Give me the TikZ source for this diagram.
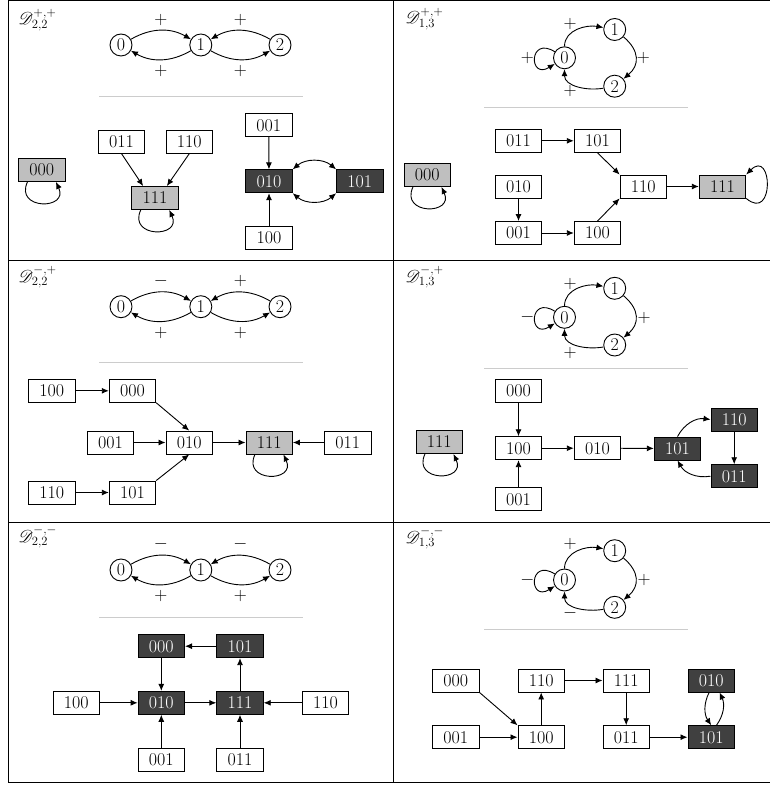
\documentclass[tikz,border=0pt]{standalone}
\usepackage{fix-cm}
\usepackage{fontspec}
\usepackage{mathrsfs}
\usetikzlibrary{arrows.meta,calc,positioning}

\begin{document}
\begin{tikzpicture}[
        x=1pt, y=1pt, line width=0.9pt,
        >={Latex[length=7pt,width=6pt]},
        every node/.style={font=\fontsize{18}{22}\selectfont},
        vtx/.style={circle, draw, minimum size=22pt, inner sep=0pt},
        st/.style={rectangle, draw, minimum width=46.5pt, minimum height=23pt, inner sep=0pt},
        fix/.style={st, fill=black!25},
        cyc/.style={st, fill=black!75, text=white},
        sep/.style={draw=black!20, line width=1pt},
        ttl/.style={anchor=base west, inner sep=0pt}
      ]
        \useasboundingbox (0,0) rectangle (769,-786);

        \draw (8,0) rectangle (770,-782);
        \draw (393,0) -- (393,-782);
        \draw (8,-260.7) -- (770,-260.7);
        \draw (8,-522) -- (770,-522);

        % D_{2,2}^{+,+}
        \node (atl) [ttl] at (18,-25) {$\mathscr{D}^{+,+}_{2,2}$};
        \node (a0) [vtx] at (121,-45) {0};
        \node (a1) [vtx] at (200.8,-45) {1};
        \node (a2) [vtx] at (280,-45) {2};
        \draw[->] (a0) to[bend left=30] node[above=1.5pt] (a01) {$+$} (a1);
        \draw[->] (a2) to[bend right=30] node[above=1.5pt] (a21) {$+$} (a1);
        \draw[->] (a1) to[bend left=30] node[below=2.5pt] (a10) {$+$} (a0);
        \draw[->] (a1) to[bend right=30] node[below=2.5pt] (a12) {$+$} (a2);
        \draw[sep] (99,-96.7) -- (303,-96.7);

        \node (a000) [fix] at (41.7,-170) {000};
        \node (a011) [st] at (121.5,-141.7) {011};
        \node (a110) [st] at (189.3,-141.7) {110};
        \node (a111) [fix] at (155,-198) {111};
        \node (a001) [st] at (268.8,-125.2) {001};
        \node (a010) [cyc] at (269,-181.3) {010};
        \node (a101) [cyc] at (359.8,-181.3) {101};
        \node (a100) [st] at (269,-237.5) {100};
        \draw[->] (a000.-140) to[out=-115,in=-65,looseness=2.8] (a000.-40);
        \draw[->] (a011.south) -- ($(a111.north)!.5!(a111.north west)$);
        \draw[->] (a110.south) -- ($(a111.north)!.5!(a111.north east)$);
        \draw[->] (a111.-140) to[out=-115,in=-65,looseness=2.8] (a111.-40);
        \draw[->] (a001) -- (a010);
        \draw[->] (a100) -- (a010);
        \draw[<->] (a010.north east) to[bend left=40] (a101.north west);
        \draw[<->] (a010.south east) to[bend right=40] (a101.south west);

        % D_{1,3}^{+,+}
        \node (btl) [ttl] at (405,-24) {$\mathscr{D}^{+,+}_{1,3}$};
        \node (b0) [vtx] at (564.5,-57.8) {0};
        \node (b1) [vtx] at (614.7,-29.5) {1};
        \node (b2) [vtx] at (614.7,-86.2) {2};
        \draw[->] (b0) to[out=90,in=170] (b1);
        \draw[->] (b1) to[out=-40,in=40,looseness=1.3] (b2);
        \draw[->] (b2) to[out=190,in=-90] (b0);
        \draw[->] (b0) to[out=148,in=212,min distance=31pt] (b0);
        \node (b01) at (570,-24) {$+$};
        \node (b12) at (643.3,-57.8) {$+$};
        \node (b20) at (570,-90.7) {$+$};
        \node (b00) at (527.3,-57.8) {$+$};
        \draw[sep] (484.3,-107.3) -- (688.3,-107.3);

        \node (b000) [fix] at (427.2,-175) {000};
        \node (b011) [st] at (518.5,-140.8) {011};
        \node (b101) [st] at (597.5,-140.8) {101};
        \node (b010) [st] at (518.5,-186.5) {010};
        \node (b110) [st] at (643.3,-186.5) {110};
        \node (b111) [fix] at (722.5,-186.5) {111};
        \node (b001) [st] at (518.5,-233) {001};
        \node (b100) [st] at (597.5,-233) {100};
        \draw[->] (b000.-140) to[out=-115,in=-65,looseness=2.8] (b000.-40);
        \draw[->] (b011) -- (b101);
        \draw[->] (b101.south) -- (b110.north west);
        \draw[->] (b010) -- (b001);
        \draw[->] (b001) -- (b100);
        \draw[->] (b100.north) -- (b110.south west);
        \draw[->] (b110) -- (b111);
        \draw[->] (b111.south east) to[out=-40,in=45,looseness=4] (b111.north east);

        % D_{2,2}^{-,+}
        \node (ctl) [ttl] at (18,-282) {$\mathscr{D}^{-,+}_{2,2}$};
        \node (c0) [vtx] at (121,-306.7) {0};
        \node (c1) [vtx] at (200.8,-306.7) {1};
        \node (c2) [vtx] at (280,-306.7) {2};
        \draw[->] (c0) to[bend left=30] node[above=1.5pt] (c01) {$-$} (c1);
        \draw[->] (c2) to[bend right=30] node[above=1.5pt] (c21) {$+$} (c1);
        \draw[->] (c1) to[bend left=30] node[below=2.5pt] (c10) {$+$} (c0);
        \draw[->] (c1) to[bend right=30] node[below=2.5pt] (c12) {$+$} (c2);
        \draw[sep] (99,-362.3) -- (303,-362.3);

        \node (c100) [st] at (51.7,-390.8) {100};
        \node (c000) [st] at (132.5,-390.8) {000};
        \node (c001) [st] at (110.5,-442.5) {001};
        \node (c010) [st] at (189.2,-442.5) {010};
        \node (c111) [fix] at (269.2,-442.5) {111};
        \node (c011) [st] at (347.8,-442.5) {011};
        \node (c110) [st] at (51.7,-492.5) {110};
        \node (c101) [st] at (132.5,-492.5) {101};
        \draw[->] (c100) -- (c000);
        \draw[->] (c000.south east) -- (c010.north);
        \draw[->] (c001) -- (c010);
        \draw[->] (c101.north east) -- (c010.south);
        \draw[->] (c010) -- (c111);
        \draw[->] (c011) -- (c111);
        \draw[->] (c111.-140) to[out=-115,in=-65,looseness=2.8] (c111.-40);
        \draw[->] (c110) -- (c101);

        % D_{1,3}^{-,+}
        \node (dtl) [ttl] at (405,-282) {$\mathscr{D}^{-,+}_{1,3}$};
        \node (d0) [vtx] at (564.5,-317.3) {0};
        \node (d1) [vtx] at (614.7,-288.3) {1};
        \node (d2) [vtx] at (614.7,-345) {2};
        \draw[->] (d0) to[out=90,in=170] (d1);
        \draw[->] (d1) to[out=-40,in=40,looseness=1.3] (d2);
        \draw[->] (d2) to[out=190,in=-90] (d0);
        \draw[->] (d0) to[out=148,in=212,min distance=31pt] (d0);
        \node (d01) at (570,-284.3) {$+$};
        \node (d12) at (644,-318.3) {$+$};
        \node (d20) at (570,-353.3) {$+$};
        \node (d00) at (527.3,-317.3) {$-$};
        \draw[sep] (484.3,-368.3) -- (688.3,-368.3);

        \node (d111) [fix] at (439.2,-442) {111};
        \node (d000) [st] at (518.5,-390.8) {000};
        \node (d100) [st] at (518.5,-448.2) {100};
        \node (d001) [st] at (518.5,-499.2) {001};
        \node (d010) [st] at (597.5,-448.2) {010};
        \node (d101) [cyc] at (677.5,-448.5) {101};
        \node (d110) [cyc] at (734.2,-419.5) {110};
        \node (d011) [cyc] at (734.2,-476.2) {011};
        \draw[->] (d111.-140) to[out=-115,in=-65,looseness=2.8] (d111.-40);
        \draw[->] (d000) -- (d100);
        \draw[->] (d001) -- (d100);
        \draw[->] (d100) -- (d010);
        \draw[->] (d010) -- (d101);
        \draw[->] (d101.north) to[bend left=35] (d110.west);
        \draw[->] (d110) -- (d011);
        \draw[->] (d011.west) to[bend left=35] (d101.south);

        % D_{2,2}^{-,-}
        \node (etl) [ttl] at (18,-542) {$\mathscr{D}^{-,-}_{2,2}$};
        \node (e0) [vtx] at (121,-570) {0};
        \node (e1) [vtx] at (200.8,-570) {1};
        \node (e2) [vtx] at (280,-570) {2};
        \draw[->] (e0) to[bend left=30] node[above=1.5pt] (e01) {$-$} (e1);
        \draw[->] (e2) to[bend right=30] node[above=1.5pt] (e21) {$-$} (e1);
        \draw[->] (e1) to[bend left=30] node[below=2.5pt] (e10) {$+$} (e0);
        \draw[->] (e1) to[bend right=30] node[below=2.5pt] (e12) {$+$} (e2);
        \draw[sep] (99,-617.7) -- (303,-617.7);

        \node (e000) [cyc] at (161.3,-646.2) {000};
        \node (e101) [cyc] at (240,-646.2) {101};
        \node (e100) [st] at (76.2,-702.8) {100};
        \node (e010) [cyc] at (161.3,-702.8) {010};
        \node (e111) [cyc] at (240,-702.8) {111};
        \node (e110) [st] at (325.5,-702.8) {110};
        \node (e001) [st] at (161.3,-759.7) {001};
        \node (e011) [st] at (240,-759.7) {011};
        \draw[->] (e101) -- (e000);
        \draw[->] (e000) -- (e010);
        \draw[->] (e100) -- (e010);
        \draw[->] (e010) -- (e111);
        \draw[->] (e110) -- (e111);
        \draw[->] (e111) -- (e101);
        \draw[->] (e001) -- (e010);
        \draw[->] (e011) -- (e111);

        % D_{1,3}^{-,-}
        \node (ftl) [ttl] at (405,-543) {$\mathscr{D}^{-,-}_{1,3}$};
        \node (f0) [vtx] at (564.5,-580) {0};
        \node (f1) [vtx] at (614.7,-550.7) {1};
        \node (f2) [vtx] at (614.7,-607.3) {2};
        \draw[->] (f0) to[out=90,in=170] (f1);
        \draw[->] (f1) to[out=-40,in=40,looseness=1.3] (f2);
        \draw[->] (f2) to[out=190,in=-90] (f0);
        \draw[->] (f0) to[out=148,in=212,min distance=31pt] (f0);
        \node (f01) at (570,-544.3) {$+$};
        \node (f12) at (644,-580) {$+$};
        \node (f20) at (570,-613.3) {$-$};
        \node (f00) at (527.3,-580) {$-$};
        \draw[sep] (484.3,-629) -- (688.3,-629);

        \node (f000) [st] at (455.8,-680.5) {000};
        \node (f001) [st] at (455.8,-737.2) {001};
        \node (f110) [st] at (541.2,-680.5) {110};
        \node (f100) [st] at (541.2,-737.2) {100};
        \node (f111) [st] at (626.2,-680.5) {111};
        \node (f011) [st] at (626.2,-737.2) {011};
        \node (f010) [cyc] at (711.2,-680.5) {010};
        \node (f101) [cyc] at (711.2,-737.2) {101};
        \draw[->] (f000.south east) -- (f100.north west);
        \draw[->] (f001) -- (f100);
        \draw[->] (f100) -- (f110);
        \draw[->] (f110) -- (f111);
        \draw[->] (f111) -- (f011);
        \draw[->] (f011) -- (f101);
        \draw[->] (f010.-100) to[bend right=30] (f101.90);
        \draw[->] (f101.66) to[bend right=30] (f010.-55);

      \end{tikzpicture}
\end{document}
